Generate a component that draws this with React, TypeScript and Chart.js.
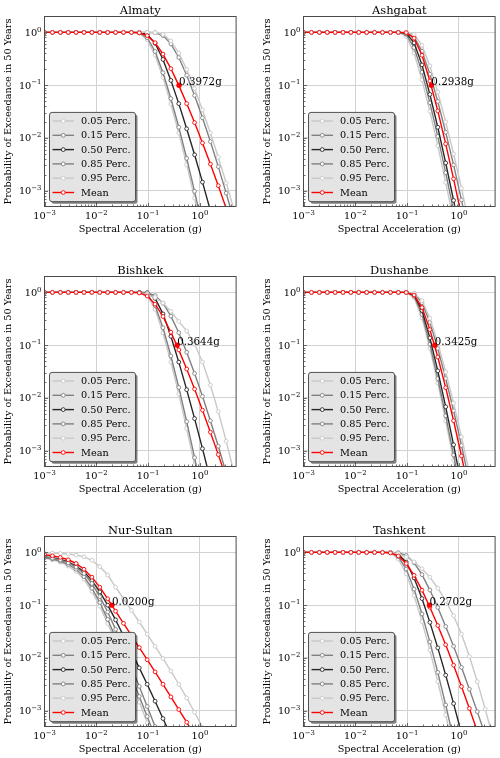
import React, { useEffect, useRef } from 'react';
import { Chart, registerables } from 'chart.js';

Chart.register(...registerables);

// Spectral acceleration grid (g)
const gridX = [0.001, 0.00142, 0.00202, 0.00287, 0.00407, 0.00579, 0.00822, 0.01168, 0.0166, 0.02358, 0.0335, 0.04758, 0.06761, 0.09605, 0.1365, 0.1939, 0.2754, 0.3913, 0.5559, 0.7898, 1.122, 1.594, 2.265, 3.217, 4.571, 6.494];

// Almaty
const almatyP05 = [1, 1, 1, 1, 1, 1, 1, 1, 1, 1, 1, 1, 0.965, 0.727, 0.369, 0.14, 0.0439, 0.0123, 0.0031, 0.000721, 0.000152];
const almatyP15 = [1, 1, 1, 1, 1, 1, 1, 1, 1, 1, 1, 1, 0.981, 0.794, 0.434, 0.172, 0.0557, 0.0159, 0.00409, 0.000968, 0.000208];
const almatyP50 = [1, 1, 1, 1, 1, 1, 1, 1, 1, 1, 1, 1, 0.998, 0.917, 0.621, 0.307, 0.123, 0.0446, 0.0149, 0.00478, 0.00145, 0.000419, 0.000117];
const almatyP85 = [1, 1, 1, 1, 1, 1, 1, 1, 1, 1, 1, 1, 1, 1, 0.985, 0.869, 0.606, 0.334, 0.154, 0.0637, 0.024, 0.00851, 0.00285, 0.000897, 0.00027];
const almatyP95 = [1, 1, 1, 1, 1, 1, 1, 1, 1, 1, 1, 1, 1, 1, 0.993, 0.915, 0.687, 0.407, 0.199, 0.0862, 0.0338, 0.0124, 0.0043, 0.0014, 0.000434, 0.000126];
const almatyMean = [1, 1, 1, 1, 1, 1, 1, 1, 1, 1, 1, 0.999, 0.98, 0.868, 0.636, 0.388, 0.205, 0.099, 0.0447, 0.0195, 0.00802, 0.00319, 0.00124, 0.000462, 0.000168];

// Ashgabat
const ashgabatP05 = [1, 1, 1, 1, 1, 1, 1, 1, 1, 1, 1, 1, 0.997, 0.84, 0.403, 0.126, 0.0318, 0.00713, 0.00143, 0.000267];
const ashgabatP15 = [1, 1, 1, 1, 1, 1, 1, 1, 1, 1, 1, 1, 1, 0.918, 0.515, 0.176, 0.0462, 0.0107, 0.00219, 0.000418, 0.0000723];
const ashgabatP50 = [1, 1, 1, 1, 1, 1, 1, 1, 1, 1, 1, 1, 1, 0.966, 0.633, 0.242, 0.0667, 0.0159, 0.00335, 0.000652, 0.000115];
const ashgabatP85 = [1, 1, 1, 1, 1, 1, 1, 1, 1, 1, 1, 1, 1, 0.991, 0.822, 0.44, 0.162, 0.0489, 0.0128, 0.00307, 0.000665, 0.000132];
const ashgabatP95 = [1, 1, 1, 1, 1, 1, 1, 1, 1, 1, 1, 1, 1, 0.998, 0.913, 0.567, 0.231, 0.0737, 0.0201, 0.00497, 0.00111, 0.000226];
const ashgabatMean = [1, 1, 1, 1, 1, 1, 1, 1, 1, 1, 1, 1, 1, 0.989, 0.777, 0.368, 0.12, 0.0324, 0.00769, 0.00167, 0.000329, 0.0000596];

// Bishkek
const bishkekP05 = [1, 1, 1, 1, 1, 1, 1, 1, 1, 1, 1, 1, 0.998, 0.877, 0.479, 0.171, 0.0479, 0.0119, 0.00262, 0.000535, 0.0000993];
const bishkekP15 = [1, 1, 1, 1, 1, 1, 1, 1, 1, 1, 1, 1, 1, 0.925, 0.562, 0.214, 0.0623, 0.0158, 0.00355, 0.000736, 0.000139];
const bishkekP50 = [1, 1, 1, 1, 1, 1, 1, 1, 1, 1, 1, 1, 1, 0.986, 0.772, 0.391, 0.147, 0.0477, 0.0143, 0.00405, 0.00109, 0.00028, 0.0000698];
const bishkekP85 = [1, 1, 1, 1, 1, 1, 1, 1, 1, 1, 1, 1, 1, 0.982, 0.87, 0.623, 0.355, 0.172, 0.0734, 0.029, 0.0107, 0.00368, 0.00121, 0.000374, 0.00011];
const bishkekP95 = [1, 1, 1, 1, 1, 1, 1, 1, 1, 1, 1, 0.995, 0.97, 0.916, 0.8, 0.63, 0.437, 0.282, 0.186, 0.105, 0.0479, 0.0174, 0.0055, 0.00151, 0.00038, 0.0000891];
const bishkekMean = [1, 1, 1, 1, 1, 1, 1, 1, 1, 1, 1, 0.999, 0.978, 0.853, 0.599, 0.349, 0.176, 0.0813, 0.0352, 0.0147, 0.00585, 0.00224, 0.00084, 0.000303, 0.000106];

// Dushanbe
const dushanbeP05 = [1, 1, 1, 1, 1, 1, 1, 1, 1, 1, 1, 1, 1, 0.997, 0.794, 0.328, 0.0866, 0.0191, 0.00368, 0.000657, 0.000106];
const dushanbeP15 = [1, 1, 1, 1, 1, 1, 1, 1, 1, 1, 1, 1, 1, 0.999, 0.85, 0.38, 0.1045, 0.0233, 0.00459, 0.000828, 0.000136];
const dushanbeP50 = [1, 1, 1, 1, 1, 1, 1, 1, 1, 1, 1, 1, 1, 1, 0.895, 0.453, 0.137, 0.0326, 0.00678, 0.00129, 0.000222];
const dushanbeP85 = [1, 1, 1, 1, 1, 1, 1, 1, 1, 1, 1, 1, 1, 1, 0.95, 0.636, 0.27, 0.0864, 0.0233, 0.00571, 0.00125, 0.000253];
const dushanbeP95 = [1, 1, 1, 1, 1, 1, 1, 1, 1, 1, 1, 1, 1, 1, 0.966, 0.699, 0.322, 0.11, 0.0311, 0.00796, 0.00182, 0.000384, 0.0000748];
const dushanbeMean = [1, 1, 1, 1, 1, 1, 1, 1, 1, 1, 1, 1, 1, 0.998, 0.89, 0.516, 0.197, 0.0595, 0.0156, 0.00368, 0.000791, 0.000155];

// Nur-Sultan
const nurSultanP05 = [0.776, 0.724, 0.653, 0.55, 0.437, 0.309, 0.182, 0.0955, 0.0447, 0.02, 0.00851, 0.00355, 0.00145, 0.000589, 0.00024];
const nurSultanP15 = [0.794, 0.75, 0.684, 0.589, 0.479, 0.347, 0.209, 0.112, 0.0537, 0.024, 0.0105, 0.00447, 0.00186, 0.000776, 0.000316];
const nurSultanP50 = [0.822, 0.794, 0.741, 0.661, 0.55, 0.427, 0.295, 0.178, 0.1, 0.0525, 0.0263, 0.0132, 0.00646, 0.00316, 0.00151, 0.000708, 0.000331];
const nurSultanP85 = [0.813, 0.776, 0.716, 0.631, 0.525, 0.398, 0.257, 0.145, 0.0741, 0.0347, 0.0155, 0.00676, 0.00288, 0.0012, 0.000501, 0.0002];
const nurSultanP95 = [0.97, 0.966, 0.955, 0.933, 0.891, 0.822, 0.708, 0.537, 0.372, 0.219, 0.132, 0.0794, 0.0479, 0.0282, 0.0166, 0.00977, 0.00562, 0.00316, 0.00174, 0.000933, 0.000479, 0.00024];
const nurSultanMean = [0.902, 0.861, 0.804, 0.724, 0.617, 0.479, 0.339, 0.219, 0.132, 0.0767, 0.0452, 0.0266, 0.0157, 0.00923, 0.00543, 0.00316, 0.00182, 0.00105, 0.000603, 0.000339];

// Tashkent
const tashkentP05 = [1, 1, 1, 1, 1, 1, 1, 1, 1, 1, 1, 0.971, 0.75, 0.393, 0.152, 0.0489, 0.0139, 0.00356, 0.000832, 0.00018];
const tashkentP15 = [1, 1, 1, 1, 1, 1, 1, 1, 1, 1, 1, 0.988, 0.83, 0.484, 0.201, 0.0679, 0.0201, 0.00532, 0.00128, 0.000286, 0.000058];
const tashkentP50 = [1, 1, 1, 1, 1, 1, 1, 1, 1, 1, 1, 0.998, 0.93, 0.654, 0.328, 0.133, 0.0471, 0.0155, 0.0047, 0.00136, 0.00037, 0.0000953];
const tashkentP85 = [1, 1, 1, 1, 1, 1, 1, 1, 1, 1, 1, 1, 0.985, 0.876, 0.634, 0.378, 0.193, 0.0903, 0.0394, 0.0166, 0.00661, 0.00255, 0.000957, 0.000346, 0.000122];
const tashkentP95 = [1, 1, 1, 1, 1, 1, 1, 1, 1, 1, 1, 0.995, 0.944, 0.81, 0.66, 0.49, 0.34, 0.209, 0.12, 0.063, 0.0282, 0.0107, 0.00355, 0.00107, 0.000302];
const tashkentMean = [1, 1, 1, 1, 1, 1, 1, 1, 1, 1, 0.999, 0.976, 0.855, 0.614, 0.367, 0.192, 0.0915, 0.041, 0.0177, 0.00726, 0.00286, 0.0011, 0.000409, 0.000147];

// Annotations (acceleration at 10% probability)
const cityTitles = ['Almaty', 'Ashgabat', 'Bishkek', 'Dushanbe', 'Nur-Sultan', 'Tashkent'];
const annotationX = [0.3972, 0.2938, 0.3644, 0.3425, 0.02, 0.2702];
const annotationLabels = ['0.3972g', '0.2938g', '0.3644g', '0.3425g', '0.0200g', '0.2702g'];
const annotationY = 0.1;

// Series styling / legend
const seriesLabels = ['0.05 Perc.', '0.15 Perc.', '0.50 Perc.', '0.85 Perc.', '0.95 Perc.', 'Mean'];
const seriesColors = ['#c8c8c8', '#808080', '#262626', '#808080', '#c8c8c8', '#ff0000'];

// Axes
const xMin = 0.001;
const xMax = 5;
const yMin = 0.0005;
const yMax = 2;
const xMajorTicks = [0.001, 0.01, 0.1, 1];
const yMajorTicks = [0.001, 0.01, 0.1, 1];
const xTickExponents = ['\u22123', '\u22122', '\u22121', '0'];
const yTickExponents = ['\u22123', '\u22122', '\u22121', '0'];
const tickBase = '10';
const xMinorTicks = [0.002, 0.003, 0.004, 0.005, 0.006, 0.007, 0.008, 0.009, 0.02, 0.03, 0.04, 0.05, 0.06, 0.07, 0.08, 0.09, 0.2, 0.3, 0.4, 0.5, 0.6, 0.7, 0.8, 0.9, 2, 3, 4];
const yMinorTicks = [0.0006, 0.0007, 0.0008, 0.0009, 0.002, 0.003, 0.004, 0.005, 0.006, 0.007, 0.008, 0.009, 0.02, 0.03, 0.04, 0.05, 0.06, 0.07, 0.08, 0.09, 0.2, 0.3, 0.4, 0.5, 0.6, 0.7, 0.8, 0.9];
const xAxisTitle = 'Spectral Acceleration (g)';
const yAxisTitle = 'Probability of Exceedance in 50 Years';

const citySeries = [
  [almatyP05, almatyP15, almatyP50, almatyP85, almatyP95, almatyMean],
  [ashgabatP05, ashgabatP15, ashgabatP50, ashgabatP85, ashgabatP95, ashgabatMean],
  [bishkekP05, bishkekP15, bishkekP50, bishkekP85, bishkekP95, bishkekMean],
  [dushanbeP05, dushanbeP15, dushanbeP50, dushanbeP85, dushanbeP95, dushanbeMean],
  [nurSultanP05, nurSultanP15, nurSultanP50, nurSultanP85, nurSultanP95, nurSultanMean],
  [tashkentP05, tashkentP15, tashkentP50, tashkentP85, tashkentP95, tashkentMean],
];

const FONT = '"DejaVu Serif", "Liberation Serif", serif';
const CANVAS_W = 241;
const CANVAS_H = 238;

function roundRect(ctx: CanvasRenderingContext2D, x: number, y: number, w: number, h: number, r: number) {
  ctx.beginPath();
  ctx.moveTo(x + r, y);
  ctx.lineTo(x + w - r, y);
  ctx.arcTo(x + w, y, x + w, y + r, r);
  ctx.lineTo(x + w, y + h - r);
  ctx.arcTo(x + w, y + h, x + w - r, y + h, r);
  ctx.lineTo(x + r, y + h);
  ctx.arcTo(x, y + h, x, y + h - r, r);
  ctx.lineTo(x, y + r);
  ctx.arcTo(x, y, x + r, y, r);
  ctx.closePath();
}

function makeDecor(idx: number) {
  return {
    id: 'decor' + idx,
    afterDraw(chart: any) {
      const ctx: CanvasRenderingContext2D = chart.ctx;
      const a = chart.chartArea;
      const xs = chart.scales.x;
      const ys = chart.scales.y;
      ctx.save();

      // annotation text
      const ax = xs.getPixelForValue(annotationX[idx]);
      const ay = ys.getPixelForValue(annotationY);
      ctx.fillStyle = '#000';
      ctx.font = `10.3px ${FONT}`;
      ctx.textAlign = 'left';
      ctx.textBaseline = 'alphabetic';
      ctx.fillText(annotationLabels[idx], ax, ay);

      // frame
      ctx.strokeStyle = '#4a4a4a';
      ctx.lineWidth = 1;
      ctx.strokeRect(a.left, a.top, a.right - a.left, a.bottom - a.top);

      // inward ticks
      ctx.lineWidth = 0.8;
      const tick = (v: number, len: number, axis: 'x' | 'y') => {
        ctx.beginPath();
        if (axis === 'x') {
          const p = Math.round(xs.getPixelForValue(v)) + 0.5;
          ctx.moveTo(p, a.bottom);
          ctx.lineTo(p, a.bottom - len);
        } else {
          const p = Math.round(ys.getPixelForValue(v)) + 0.5;
          ctx.moveTo(a.left, p);
          ctx.lineTo(a.left + len, p);
        }
        ctx.stroke();
      };
      xMajorTicks.forEach((v) => tick(v, 3.5, 'x'));
      xMinorTicks.forEach((v) => tick(v, 2, 'x'));
      yMajorTicks.forEach((v) => tick(v, 3.5, 'y'));
      yMinorTicks.forEach((v) => tick(v, 2, 'y'));

      // tick labels
      ctx.fillStyle = '#000';
      ctx.textBaseline = 'alphabetic';
      ctx.textAlign = 'left';
      const baseFont = `9.8px ${FONT}`;
      const supFont = `6.9px ${FONT}`;
      xMajorTicks.forEach((v, i) => {
        const px = xs.getPixelForValue(v);
        ctx.font = baseFont;
        const wb = ctx.measureText(tickBase).width;
        ctx.font = supFont;
        const wsup = ctx.measureText(xTickExponents[i]).width;
        const start = px - (wb + wsup) / 2;
        ctx.font = baseFont;
        ctx.fillText(tickBase, start, a.bottom + 12.6);
        ctx.font = supFont;
        ctx.fillText(xTickExponents[i], start + wb, a.bottom + 8.3);
      });
      yMajorTicks.forEach((v, i) => {
        const py = ys.getPixelForValue(v);
        ctx.font = baseFont;
        const wb = ctx.measureText(tickBase).width;
        ctx.font = supFont;
        const wsup = ctx.measureText(yTickExponents[i]).width;
        const end = a.left - 3.0;
        const start = end - wb - wsup;
        ctx.font = baseFont;
        ctx.fillText(tickBase, start, py + 3.5);
        ctx.font = supFont;
        ctx.fillText(yTickExponents[i], start + wb, py - 0.8);
      });

      // axis titles
      ctx.font = `9.7px ${FONT}`;
      ctx.textAlign = 'center';
      ctx.fillText(xAxisTitle, (a.left + a.right) / 2, a.bottom + 25.3);
      ctx.save();
      ctx.translate(11.3, (a.top + a.bottom) / 2);
      ctx.rotate(-Math.PI / 2);
      ctx.fillText(yAxisTitle, 0, 0);
      ctx.restore();

      // title
      ctx.font = `11.5px ${FONT}`;
      ctx.textAlign = 'center';
      ctx.fillText(cityTitles[idx], (a.left + a.right) / 2, 13.6);

      // legend
      const lw = 86;
      const lh = 89.3;
      const lx = a.left + 5;
      const ly = a.bottom - 4.8 - lh;
      ctx.fillStyle = 'rgba(0,0,0,0.5)';
      roundRect(ctx, lx + 2, ly + 2, lw, lh, 2.5);
      ctx.fill();
      ctx.fillStyle = '#e4e4e4';
      roundRect(ctx, lx, ly, lw, lh, 2.5);
      ctx.fill();
      ctx.strokeStyle = '#505050';
      ctx.lineWidth = 1;
      ctx.stroke();
      ctx.font = `9.7px ${FONT}`;
      ctx.textAlign = 'left';
      ctx.textBaseline = 'middle';
      seriesLabels.forEach((lab, i) => {
        const cy = ly + 8.6 + i * 14.3;
        ctx.strokeStyle = seriesColors[i];
        ctx.lineWidth = 1.4;
        ctx.beginPath();
        ctx.moveTo(lx + 3, cy);
        ctx.lineTo(lx + 24.5, cy);
        ctx.stroke();
        ctx.beginPath();
        ctx.arc(lx + 13.75, cy, 1.9, 0, Math.PI * 2);
        ctx.fillStyle = '#ffffff';
        ctx.fill();
        ctx.lineWidth = 0.9;
        ctx.stroke();
        ctx.fillStyle = '#000';
        ctx.fillText(lab, lx + 31.5, cy + 0.5);
      });

      ctx.restore();
    },
  };
}

function Panel({ idx, left, top }: { idx: number; left: number; top: number }) {
  const ref = useRef<HTMLCanvasElement>(null);
  useEffect(() => {
    const canvas = ref.current;
    if (!canvas) return;
    const series = citySeries[idx];
    const datasets: any[] = series.map((ys, i) => ({
      type: 'line',
      label: seriesLabels[i],
      data: ys.map((y, j) => ({ x: gridX[j], y })),
      borderColor: seriesColors[i],
      backgroundColor: '#ffffff',
      pointBackgroundColor: '#ffffff',
      pointBorderColor: seriesColors[i],
      pointRadius: 1.9,
      pointBorderWidth: 0.9,
      borderWidth: 1.4,
      tension: 0,
      fill: false,
      order: 6 - i,
    }));
    datasets.push({
      type: 'scatter',
      label: 'annotation',
      data: [{ x: annotationX[idx], y: annotationY }],
      pointRadius: 2.6,
      pointBorderWidth: 0,
      pointBackgroundColor: '#ff0000',
      pointBorderColor: '#ff0000',
      showLine: false,
      order: 0,
    });
    const chart = new Chart(canvas, {
      type: 'line',
      data: { datasets },
      options: {
        animation: false,
        responsive: false,
        devicePixelRatio: 1,
        events: [],
        layout: { padding: { left: 44.5, top: 16.5, right: CANVAS_W - 236.5, bottom: CANVAS_H - 206.5 } },
        plugins: { legend: { display: false }, tooltip: { enabled: false }, title: { display: false } },
        scales: {
          x: {
            type: 'logarithmic',
            min: xMin,
            max: xMax,
            afterFit: (s: any) => { s.height = 0; },
            afterBuildTicks: (s: any) => { s.ticks = xMajorTicks.map((v) => ({ value: v })); },
            ticks: { display: false },
            grid: { color: '#d2d2d2', lineWidth: 1, drawTicks: false },
            border: { display: false },
          },
          y: {
            type: 'logarithmic',
            min: yMin,
            max: yMax,
            afterFit: (s: any) => { s.width = 0; },
            afterBuildTicks: (s: any) => { s.ticks = yMajorTicks.map((v) => ({ value: v })); },
            ticks: { display: false },
            grid: { color: '#d2d2d2', lineWidth: 1, drawTicks: false },
            border: { display: false },
          },
        },
      } as any,
      plugins: [makeDecor(idx)],
    });
    return () => chart.destroy();
  }, [idx]);
  return (
    <canvas
      ref={ref}
      width={CANVAS_W}
      height={CANVAS_H}
      style={{ position: 'absolute', left, top, width: CANVAS_W, height: CANVAS_H }}
    />
  );
}

export default function App() {
  return (
    <div style={{ position: 'absolute', left: 0, top: 0, width: 500, height: 758, overflow: 'hidden', background: '#fff' }}>
      {cityTitles.map((_, i) => (
        <Panel key={i} idx={i} left={(i % 2) * 259} top={Math.floor(i / 2) * 260} />
      ))}
    </div>
  );
}
